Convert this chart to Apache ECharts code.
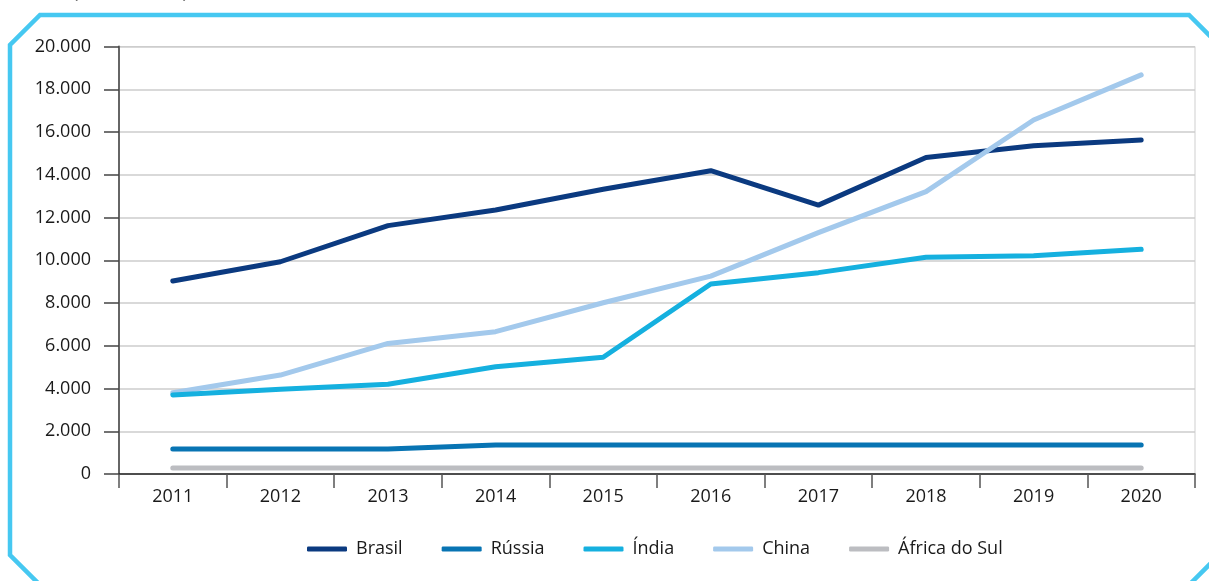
<!DOCTYPE html>
<html>
<head>
<meta charset="utf-8">
<script src="https://cdn.jsdelivr.net/npm/echarts@6/dist/echarts.min.js"></script>
<style>
html,body{margin:0;padding:0;background:#fff;}
#chart{width:1209px;height:581px;}
</style>
</head>
<body>
<div id="chart"></div>
<script>
const years = ['2011','2012','2013','2014','2015','2016','2017','2018','2019','2020'];
const brasil = [9030, 9930, 11620, 12350, 13320, 14190, 12580, 14810, 15360, 15630];
const russia = [1170, 1170, 1170, 1360, 1360, 1360, 1360, 1360, 1360, 1360];
const india = [3700, 3960, 4200, 5020, 5460, 8890, 9420, 10140, 10210, 10510];
const china = [3800, 4630, 6110, 6660, 8010, 9260, 11290, 13210, 16560, 18670];
const africa = [280, 280, 280, 280, 280, 280, 280, 280, 280, 280];
const seriesNames = ['Brasil', 'Rússia', 'Índia', 'China', 'África do Sul'];
const yTicks = { min: 0, max: 20000, interval: 2000 };
const subtitle = '(US$ milhões)';

const colors = ['#0B3A80', '#0874B3', '#15B0DF', '#A3C9EC', '#BCBDC1'];
const FONT = 'Open Sans';

const chart = echarts.init(document.getElementById('chart'), null, {renderer: 'canvas'});

function mk(name, data, color, z) {
  return {
    name: name, type: 'line', data: data, showSymbol: false, symbol: 'none',
    z: z,
    itemStyle: {color: color},
    lineStyle: {color: color, width: 5, cap: 'round', join: 'round'},
    emphasis: {disabled: true}
  };
}

chart.setOption({
  animation: false,
  textStyle: {fontFamily: FONT},
  grid: {left: 119, right: 14, top: 46.5, bottom: 107, show: true, borderColor: '#cfcfcf', borderWidth: 1},
  legend: {
    data: seriesNames,
    top: 535,
    left: 302,
    icon: 'roundRect',
    itemWidth: 40,
    itemHeight: 5,
    itemGap: 39,
    textStyle: {fontSize: 18, color: '#1a1a1a', fontFamily: FONT, padding: [0,0,0,4]}
  },
  xAxis: {
    type: 'category',
    data: years,
    boundaryGap: true,
    axisLine: {show: true, lineStyle: {color: '#222', width: 1.5}},
    axisTick: {show: true, length: 14, interval: 0, lineStyle: {color: '#555', width: 1.5}},
    axisLabel: {fontSize: 18, color: '#1a1a1a', margin: 14, interval: 0, fontFamily: FONT},
    splitLine: {show: false}
  },
  yAxis: {
    type: 'value',
    min: yTicks.min, max: yTicks.max, interval: yTicks.interval,
    axisLine: {show: true, lineStyle: {color: '#666', width: 2}},
    axisTick: {show: true, length: 15, lineStyle: {color: '#444', width: 1.5}},
    axisLabel: {
      fontSize: 18, color: '#1a1a1a', margin: 28, fontFamily: FONT,
      formatter: function (v) { return v.toLocaleString('de-DE'); }
    },
    splitLine: {show: true, lineStyle: {color: '#cccccc', width: 1.5}}
  },
  graphic: [
    {
      type: 'polygon', silent: true, z: 0,
      shape: {points: [[40,15],[1189,15],[1232,58],[1232,542],[1174,600],[55,600],[10,555],[10,45]]},
      style: {fill: 'none', stroke: '#46C8F1', lineWidth: 4.5, lineJoin: 'miter'}
    },
    {
      type: 'text', silent: true, left: 73, top: -16,
      style: {text: subtitle, fontSize: 18, fill: '#6b6b6b', fontFamily: FONT}
    }
  ],
  series: [
    mk(seriesNames[0], brasil, colors[0], 2),
    mk(seriesNames[1], russia, colors[1], 2),
    mk(seriesNames[2], india, colors[2], 4),
    mk(seriesNames[3], china, colors[3], 3),
    mk(seriesNames[4], africa, colors[4], 2)
  ]
});
</script>
</body>
</html>
